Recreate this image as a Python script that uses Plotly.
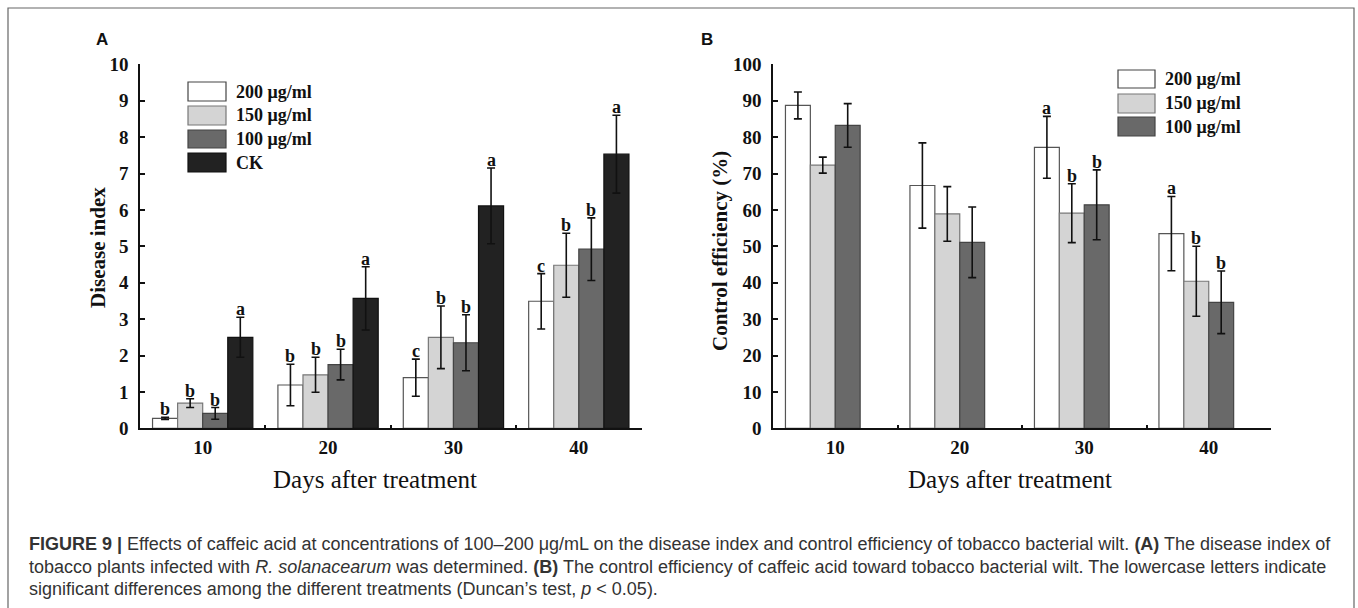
import plotly.graph_objects as go

W, H = 1358, 608

days = ["10", "20", "30", "40"]
series_a = ["200 μg/ml", "150 μg/ml", "100 μg/ml", "CK"]
series_b = ["200 μg/ml", "150 μg/ml", "100 μg/ml"]

# Panel A: disease index
a_200 = [0.27, 1.19, 1.39, 3.49]
a_150 = [0.69, 1.47, 2.50, 4.48]
a_100 = [0.41, 1.75, 2.35, 4.92]
a_ck = [2.50, 3.57, 6.11, 7.53]
a_200_err = [0.03, 0.57, 0.51, 0.76]
a_150_err = [0.12, 0.48, 0.86, 0.88]
a_100_err = [0.16, 0.42, 0.77, 0.86]
a_ck_err = [0.55, 0.87, 1.04, 1.07]
a_200_let = ["b", "b", "c", "c"]
a_150_let = ["b", "b", "b", "b"]
a_100_let = ["b", "b", "b", "b"]
a_ck_let = ["a", "a", "a", "a"]

# Panel B: control efficiency (%)
b_200 = [88.7, 66.7, 77.2, 53.5]
b_150 = [72.3, 58.9, 59.1, 40.4]
b_100 = [83.2, 51.1, 61.4, 34.6]
b_200_err = [3.7, 11.7, 8.5, 10.2]
b_150_err = [2.2, 7.5, 8.1, 9.6]
b_100_err = [6.0, 9.7, 9.6, 8.6]
b_200_let = ["", "", "a", "a"]
b_150_let = ["", "", "b", "b"]
b_100_let = ["", "", "b", "b"]

fills = ["#ffffff", "#d4d4d4", "#696969", "#222222"]
lines = ["#555555", "#777777", "#444444", "#111111"]

SERIF = "Liberation Serif, Times New Roman, serif"
SANS = "Liberation Sans, Arial, Helvetica, sans-serif"

def px_x(p):
    return p / W

def px_y(p):
    return 1 - p / H

dom_ax = [px_x(140), px_x(641.5)]
dom_bx = [px_x(773), px_x(1271)]
dom_y = [px_y(428.3), px_y(64.3)]

fig = go.Figure()
annotations = []
shapes = []

bw = 0.2
offsets = [-0.4, -0.2, 0.0, 0.2]

def add_panel(xaxis, yaxis, vals, errs, lets):
    for i, (v, e, l) in enumerate(zip(vals, errs, lets)):
        fig.add_trace(go.Bar(
            x=days, y=v, width=bw, offset=offsets[i],
            marker=dict(color=fills[i], line=dict(color=lines[i], width=1.2)),
            error_y=dict(type="data", array=e, color="#111111", thickness=1.6, width=4),
            xaxis=xaxis, yaxis=yaxis, showlegend=False,
        ))
        for k, (vv, ee, ll) in enumerate(zip(v, e, l)):
            if not ll:
                continue
            annotations.append(dict(
                x=k + offsets[i] + bw / 2, y=vv + ee, xref=xaxis, yref=yaxis,
                yshift=-4,
                text="<b>" + ll + "</b>", showarrow=False,
                yanchor="bottom", xanchor="center",
                font=dict(family=SERIF, size=18, color="#111111"),
            ))

add_panel("x", "y", [a_200, a_150, a_100, a_ck],
          [a_200_err, a_150_err, a_100_err, a_ck_err],
          [a_200_let, a_150_let, a_100_let, a_ck_let])
add_panel("x2", "y2", [b_200, b_150, b_100],
          [b_200_err, b_150_err, b_100_err],
          [b_200_let, b_150_let, b_100_let])

axis_common = dict(
    showline=True, linecolor="#111111", linewidth=1.6,
    ticks="inside", tickcolor="#111111", tickwidth=1.5,
    showgrid=False, zeroline=False, automargin=False,
    tickfont=dict(family=SERIF, size=19, color="#111111", weight="bold"),
)

fig.update_layout(
    width=W, height=H, autosize=False,
    margin=dict(l=0, r=0, t=0, b=0, pad=0),
    paper_bgcolor="white", plot_bgcolor="white",
    barmode="overlay",
    xaxis=dict(domain=dom_ax, anchor="y", type="category", categoryarray=days,
               range=[-0.5, 3.5], tickson="boundaries", ticklen=4, ticklabelstandoff=1,
               **axis_common),
    yaxis=dict(domain=dom_y, anchor="x", range=[0, 10], dtick=1, ticklen=5,
               ticklabelstandoff=6, **axis_common),
    xaxis2=dict(domain=dom_bx, anchor="y2", type="category", categoryarray=days,
                range=[-0.5, 3.5], tickson="boundaries", ticklen=4, ticklabelstandoff=1,
                **axis_common),
    yaxis2=dict(domain=dom_y, anchor="x2", range=[0, 100], dtick=10, ticklen=5,
                ticklabelstandoff=6, **axis_common),
)

def paper_text(x, y, text, font, xanchor="center", yanchor="middle", **kw):
    annotations.append(dict(x=px_x(x), y=px_y(y), xref="paper", yref="paper", text=text,
                            showarrow=False, xanchor=xanchor, yanchor=yanchor, font=font, **kw))

# axis titles
paper_text(98, 247, "<b>Disease index</b>", dict(family=SERIF, size=21, color="#111111"), textangle=-90)
paper_text(720, 251, "<b>Control efficiency (%)</b>", dict(family=SERIF, size=21, color="#111111"), textangle=-90)
for cx in (375, 1010):
    paper_text(cx, 479, "Days after treatment", dict(family=SERIF, size=25, color="#111111"))

# panel labels
paper_text(102, 40, "<b>A</b>", dict(family=SANS, size=17, color="#111111"))
paper_text(707, 40, "<b>B</b>", dict(family=SANS, size=17, color="#111111"))

# legends (drawn boxes + labels)
def add_legend(names, x0, x1, tops, bottoms, tx):
    for i, n in enumerate(names):
        shapes.append(dict(type="rect", xref="paper", yref="paper",
                           x0=px_x(x0), x1=px_x(x1), y0=px_y(bottoms[i]), y1=px_y(tops[i]),
                           fillcolor=fills[i], line=dict(color=lines[i] if i else "#444444", width=1.2)))
        paper_text(tx, (tops[i] + bottoms[i]) / 2, "<b>" + n + "</b>",
                   dict(family=SERIF, size=18, color="#111111"), xanchor="left")

add_legend(series_a, 188, 226, [82, 106, 130, 153], [101, 125, 148, 172], 234)
add_legend(series_b, 1118, 1155, [70, 94, 117], [88, 113, 136], 1163)

# frame
shapes.append(dict(type="rect", xref="paper", yref="paper",
                   x0=px_x(8), x1=px_x(1354), y0=px_y(620), y1=px_y(8),
                   line=dict(color="#666666", width=1.2), fillcolor="rgba(0,0,0,0)"))

caption = [
    "<b>FIGURE 9 |</b> Effects of caffeic acid at concentrations of 100–200 μg/mL on the disease index and control efficiency of tobacco bacterial wilt. <b>(A)</b> The disease index of",
    "tobacco plants infected with <i>R. solanacearum</i> was determined. <b>(B)</b> The control efficiency of caffeic acid toward tobacco bacterial wilt. The lowercase letters indicate",
    "significant differences among the different treatments (Duncan’s test, <i>p</i> &lt; 0.05).",
]
for line, yy in zip(caption, [544, 567, 589]):
    paper_text(27, yy, line, dict(family=SANS, size=18, color="#333333"), xanchor="left", align="left")

fig.update_layout(annotations=annotations, shapes=shapes)
fig.write_html(
    "out.html",
    config={"responsive": False, "displayModeBar": False},
    post_script="document.body.style.margin='0';document.body.style.padding='0';document.body.style.overflow='hidden';",
)
